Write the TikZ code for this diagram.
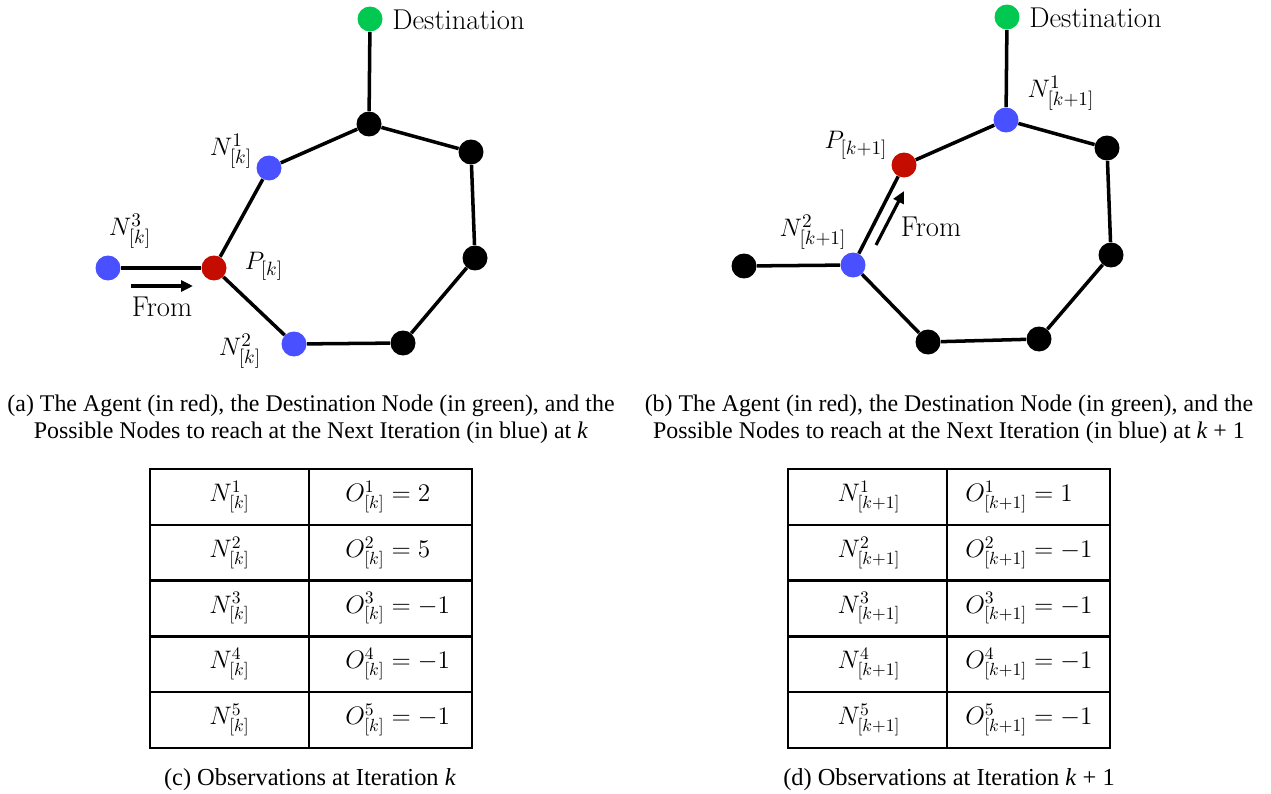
\documentclass[tikz,border=0pt]{standalone}
\usepackage{fontspec}
\newfontfamily\capfont{Liberation Serif}
\usetikzlibrary{arrows.meta}
\definecolor{nblue}{RGB}{72,80,255}
\definecolor{nred}{RGB}{196,12,0}
\definecolor{ngreen}{RGB}{0,200,80}
\begin{document}
\begin{tikzpicture}[x=0.02cm,y=-0.02cm,
  dot/.style={circle,inner sep=0pt,minimum size=0.5cm},
  blk/.style={dot,fill=black},
  blu/.style={dot,fill=nblue},
  rd/.style={dot,fill=nred},
  grn/.style={dot,fill=ngreen},
  edge/.style={line width=2pt},
  lbl/.style={font=\fontsize{15.5}{18}\selectfont,inner sep=0pt},
  word/.style={font=\fontsize{16.3}{19}\selectfont,inner sep=0pt},
  captxt/.style={font=\capfont\fontsize{13.6}{16}\selectfont,inner sep=0pt,anchor=base},
  subcap/.style={captxt,font=\capfont\fontsize{13.9}{16}\selectfont},
  cell/.style={font=\fontsize{14.2}{17}\selectfont,inner sep=0pt},
  tab/.style={line width=1.4pt},
  fromarrow/.style={line width=1.8pt,-{Triangle[length=0.24cm,width=0.22cm]}}
]
\path[use as bounding box] (0,0) rectangle (1271,794);

% ---------- left graph (a) ----------
\node[grn] (lD) at (370,19) {};
\node[blk] (lT) at (369,124) {};
\node[blk] (lR1) at (471,152) {};
\node[blk] (lR2) at (475,258) {};
\node[blk] (lBR) at (403,343) {};
\node[blu] (lN2) at (294,344) {};
\node[rd] (lP) at (214,268) {};
\node[blu] (lN1) at (269,168) {};
\node[blu] (lN3) at (108,268) {};
\draw[edge] (lD) -- (lT);
\draw[edge] (lT) -- (lR1);
\draw[edge] (lR1) -- (lR2);
\draw[edge] (lR2) -- (lBR);
\draw[edge] (lBR) -- (lN2);
\draw[edge] (lN2) -- (lP);
\draw[edge] (lP) -- (lN1);
\draw[edge] (lN1) -- (lT);
\draw[edge] (lN3) -- (lP);
\node[word,anchor=west] (lDt) at (392,20) {Destination};
\node[lbl] (lN1t) at (231,151) {$N^1_{[k]}$};
\node[lbl] (lN3t) at (130,231) {$N^3_{[k]}$};
\node[lbl] (lPt) at (264,266) {$P_{[k]}$};
\node[lbl] (lN2t) at (240,351) {$N^2_{[k]}$};
\node[word] (lFrom) at (162,307) {From};
\coordinate (la1) at (131,286);
\coordinate (la2) at (193,286);
\draw[fromarrow] (la1) -- (la2);

% ---------- right graph (b) ----------
\node[grn] (rD) at (1007,17) {};
\node[blu] (rN1) at (1006,120) {};
\node[blk] (rR1) at (1107,148) {};
\node[blk] (rR2) at (1111,255) {};
\node[blk] (rBR) at (1039,339) {};
\node[blk] (rBL) at (928,342) {};
\node[blu] (rN2) at (853,265) {};
\node[blk] (rL) at (744,266) {};
\node[rd] (rP) at (904,165) {};
\draw[edge] (rD) -- (rN1);
\draw[edge] (rN1) -- (rR1);
\draw[edge] (rR1) -- (rR2);
\draw[edge] (rR2) -- (rBR);
\draw[edge] (rBR) -- (rBL);
\draw[edge] (rBL) -- (rN2);
\draw[edge] (rN2) -- (rP);
\draw[edge] (rP) -- (rN1);
\draw[edge] (rL) -- (rN2);
\node[word,anchor=west] (rDt) at (1029,18) {Destination};
\node[lbl] (rN1t) at (1061,93) {$N^1_{[k+1]}$};
\node[lbl] (rPt) at (856,145) {$P_{[k+1]}$};
\node[lbl] (rN2t) at (813,232) {$N^2_{[k+1]}$};
\node[word] (rFrom) at (931,227) {From};
\coordinate (ra1) at (876,245);
\coordinate (ra2) at (904,191);
\draw[fromarrow] (ra1) -- (ra2);

% ---------- captions (a), (b) ----------
\node[captxt] (capa1) at (311,411) {(a) The Agent (in red), the Destination Node (in green), and the};
\node[captxt] (capa2) at (311,438) {Possible Nodes to reach at the Next Iteration (in blue) at \textit{k}};
\node[captxt] (capb1) at (949,411) {(b) The Agent (in red), the Destination Node (in green), and the};
\node[captxt] (capb2) at (949,438) {Possible Nodes to reach at the Next Iteration (in blue) at \textit{k} + 1};

% ---------- table (c) ----------
\draw[tab] (150,469) rectangle (472,748);
\draw[tab] (309,469) -- (309,748);
\foreach \r in {1,2,3,4} {\draw[tab] (150,{469+55.8*\r}) -- (472,{469+55.8*\r});}
\foreach \i/\v in {1/2,2/5,3/-1,4/-1,5/-1} {
  \node[cell] (cN\i) at (229.5,{469+55.8*(\i-0.5)}) {$N^{\i}_{[k]}$};
  \node[cell,anchor=west] (cO\i) at (345,{469+55.8*(\i-0.5)}) {$O^{\i}_{[k]} = \v$};
}
\node[subcap] (capc) at (310,785) {(c) Observations at Iteration \textit{k}};

% ---------- table (d) ----------
\draw[tab] (788,469) rectangle (1110,748);
\draw[tab] (947,469) -- (947,748);
\foreach \r in {1,2,3,4} {\draw[tab] (788,{469+55.8*\r}) -- (1110,{469+55.8*\r});}
\foreach \i/\v in {1/1,2/-1,3/-1,4/-1,5/-1} {
  \node[cell] (dN\i) at (869,{469+55.8*(\i-0.5)}) {$N^{\i}_{[k+1]}$};
  \node[cell,anchor=west] (dO\i) at (965,{469+55.8*(\i-0.5)}) {$O^{\i}_{[k+1]} = \v$};
}
\node[subcap] (capd) at (949,785) {(d) Observations at Iteration \textit{k} + 1};
\end{tikzpicture}
\end{document}
